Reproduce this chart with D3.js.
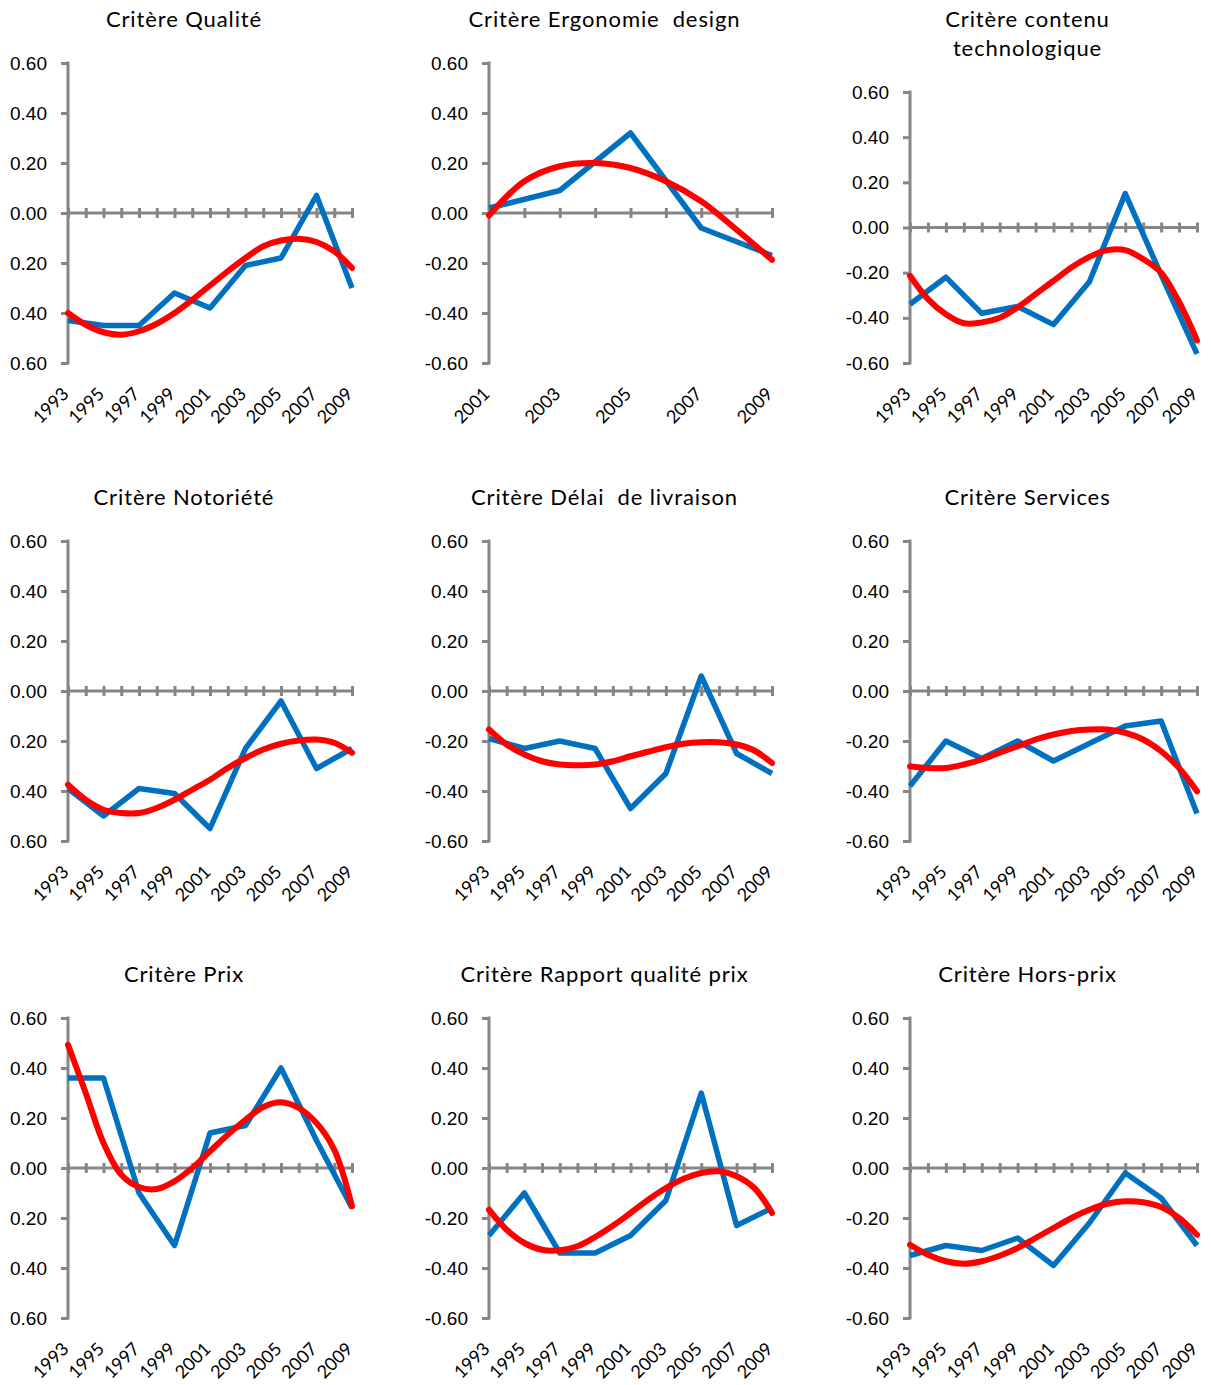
<!DOCTYPE html>
<html>
<head>
<meta charset="utf-8">
<script src="https://cdn.jsdelivr.net/npm/d3@7"></script>
<style>
  body { margin: 0; background: #fff; }
  svg { display: block; font-family: Lato, "Open Sans", sans-serif; }
</style>
</head>
<body>
<svg id="drawing_region"></svg>
<script>
// categories
const yearsLong  = [1993, 1995, 1997, 1999, 2001, 2003, 2005, 2007, 2009];
const yearsShort = [2001, 2003, 2005, 2007, 2009];
const trendYearsLong  = [1993, 1994, 1995, 1996, 1997, 1998, 1999, 2000, 2001, 2002, 2003, 2004, 2005, 2006, 2007, 2008, 2009];
const trendYearsShort = [2001, 2002, 2003, 2004, 2005, 2006, 2007, 2008, 2009];
const yTicks = [-0.6, -0.4, -0.2, 0, 0.2, 0.4, 0.6];

const qualite       = [-0.43, -0.45, -0.45, -0.32, -0.38, -0.21, -0.18, 0.07, -0.30];
const qualiteTrend  = [-0.40, -0.447, -0.477, -0.487, -0.473, -0.443, -0.40, -0.347, -0.29, -0.233, -0.18, -0.133, -0.11, -0.103, -0.116, -0.153, -0.22];
const ergonomie      = [0.02, 0.09, 0.32, -0.06, -0.17];
const ergonomieTrend = [-0.01, 0.127, 0.187, 0.20, 0.18, 0.127, 0.047, -0.067, -0.187];
const contenu      = [-0.34, -0.22, -0.38, -0.35, -0.43, -0.24, 0.15, -0.21, -0.56];
const contenuTrend = [-0.214, -0.317, -0.384, -0.424, -0.42, -0.40, -0.354, -0.295, -0.236, -0.177, -0.13, -0.10, -0.10, -0.14, -0.20, -0.33, -0.50];
const notoriete      = [-0.39, -0.50, -0.39, -0.41, -0.55, -0.23, -0.04, -0.31, -0.23];
const notorieteTrend = [-0.375, -0.435, -0.475, -0.488, -0.488, -0.468, -0.435, -0.395, -0.355, -0.308, -0.268, -0.234, -0.211, -0.198, -0.194, -0.207, -0.247];
const delai      = [-0.19, -0.23, -0.20, -0.23, -0.47, -0.33, 0.06, -0.25, -0.33];
const delaiTrend = [-0.154, -0.214, -0.254, -0.281, -0.294, -0.297, -0.294, -0.281, -0.261, -0.243, -0.225, -0.211, -0.205, -0.205, -0.214, -0.238, -0.288];
const services      = [-0.38, -0.20, -0.27, -0.20, -0.28, -0.21, -0.14, -0.12, -0.49];
const servicesTrend = [-0.301, -0.308, -0.308, -0.294, -0.274, -0.247, -0.221, -0.194, -0.174, -0.16, -0.154, -0.154, -0.167, -0.194, -0.241, -0.308, -0.401];
const prix      = [0.36, 0.36, -0.10, -0.31, 0.14, 0.17, 0.40, 0.11, -0.16];
const prixTrend = [0.493, 0.30, 0.10, -0.027, -0.076, -0.084, -0.053, 0.0, 0.067, 0.133, 0.193, 0.244, 0.263, 0.24, 0.18, 0.073, -0.153];
const rapport      = [-0.27, -0.10, -0.34, -0.34, -0.27, -0.13, 0.30, -0.23, -0.16];
const rapportTrend = [-0.167, -0.247, -0.30, -0.327, -0.329, -0.313, -0.276, -0.231, -0.18, -0.127, -0.08, -0.043, -0.02, -0.013, -0.033, -0.08, -0.18];
const horsPrix      = [-0.35, -0.31, -0.33, -0.28, -0.39, -0.22, -0.02, -0.12, -0.31];
const horsPrixTrend = [-0.307, -0.347, -0.373, -0.383, -0.373, -0.351, -0.32, -0.28, -0.24, -0.20, -0.167, -0.143, -0.133, -0.137, -0.156, -0.20, -0.267];

const titles = [
    ["Critère Qualité"], ["Critère Ergonomie  design"], ["Critère contenu", "technologique"],
    ["Critère Notoriété"], ["Critère Délai  de livraison"], ["Critère Services"],
    ["Critère Prix"], ["Critère Rapport qualité prix"], ["Critère Hors-prix"]
];

const panels = [
    { years: yearsLong,  values: qualite,   tYears: trendYearsLong,  trend: qualiteTrend },
    { years: yearsShort, values: ergonomie, tYears: trendYearsShort, trend: ergonomieTrend },
    { years: yearsLong,  values: contenu,   tYears: trendYearsLong,  trend: contenuTrend },
    { years: yearsLong,  values: notoriete, tYears: trendYearsLong,  trend: notorieteTrend },
    { years: yearsLong,  values: delai,     tYears: trendYearsLong,  trend: delaiTrend },
    { years: yearsLong,  values: services,  tYears: trendYearsLong,  trend: servicesTrend },
    { years: yearsLong,  values: prix,      tYears: trendYearsLong,  trend: prixTrend },
    { years: yearsLong,  values: rapport,   tYears: trendYearsLong,  trend: rapportTrend },
    { years: yearsLong,  values: horsPrix,  tYears: trendYearsLong,  trend: horsPrixTrend }
];

const cols = [ {x0: 68, x1: 352}, {x0: 489, x1: 772}, {x0: 910, x1: 1197} ];
const rows = [ {top: 63, bottom: 363, title: 27}, {top: 541, bottom: 841, title: 505}, {top: 1018, bottom: 1318, title: 982} ];

const svg = d3.select('#drawing_region')
    .attr('width', 1211)
    .attr('height', 1385);

const axisColor = '#868686';
// plain hyphen for negatives, like the original; left column lost its sign
const fmtSigned = d => (d < 0 ? '-' : '') + Math.abs(d).toFixed(2);
const fmtAbs = d => Math.abs(d).toFixed(2);

panels.forEach( (p, i) => {
    const col = cols[i % 3], row = rows[Math.floor(i / 3)];
    const top = (titles[i].length > 1) ? 92 : row.top;
    const width = col.x1 - col.x0, height = row.bottom - top;

    const g = svg.append('g').attr('transform', `translate(${col.x0}, ${top})`);

    // title
    const title = svg.append('text')
        .attr('x', col.x0 + width / 2 - 26)
        .attr('y', row.title)
        .attr('text-anchor', 'middle')
        .style('font-size', '22px')
        .style('letter-spacing', '0.9px')
        .style('white-space', 'pre')
        .attr('fill', '#000');
    titles[i].forEach( (line, k) => {
        title.append('tspan')
            .attr('x', col.x0 + width / 2 - 26)
            .attr('dy', k === 0 ? 0 : 29)
            .text(line);
    });

    const xs = d3.scaleLinear()
        .domain([p.tYears[0], p.tYears[p.tYears.length - 1]])
        .range([0, width]);
    const ys = d3.scaleLinear()
        .domain([-0.6, 0.6])
        .range([height, 0]);

    // y axis
    const yAxis = g.append('g')
        .call( d3.axisLeft(ys).tickValues(yTicks).tickSize(7).tickPadding(14)
            .tickFormat(i % 3 === 0 ? fmtAbs : fmtSigned) );
    yAxis.select('.domain').attr('stroke', axisColor).attr('stroke-width', 3)
        .attr('d', `M0,${height + 1.5}V-1.5`);
    yAxis.selectAll('.tick line').attr('stroke', axisColor).attr('stroke-width', 3);
    yAxis.selectAll('.tick text').style('font-size', '19px').attr('fill', '#000');

    // x axis line at zero, cross ticks every year
    const xAxis = g.append('g')
        .attr('transform', `translate(0, ${ys(0)})`)
        .call( d3.axisBottom(xs).tickValues(p.tYears).tickSize(5).tickFormat('') );
    xAxis.select('.domain').attr('stroke', axisColor).attr('stroke-width', 3)
        .attr('d', `M0,0H${width}`);
    xAxis.selectAll('.tick line').attr('stroke', axisColor).attr('stroke-width', 3)
        .attr('y1', -5).attr('y2', 5);

    // x labels at the bottom
    g.append('g')
        .selectAll('text')
        .data(p.years)
        .join('text')
        .attr('transform', d => `translate(${xs(d) + 2}, ${height + 32}) rotate(-45)`)
        .attr('text-anchor', 'end')
        .style('font-size', '18px')
        .attr('fill', '#000')
        .text(d => d);

    // observed series
    const line = d3.line()
        .x(d => xs(d[0]))
        .y(d => ys(d[1]));
    g.append('path')
        .datum(p.years.map( (y, k) => [y, p.values[k]] ))
        .attr('d', line)
        .attr('fill', 'none')
        .attr('stroke', '#0070C0')
        .attr('stroke-width', 5.5)
        .attr('stroke-linejoin', 'round');

    // trend
    const trendLine = d3.line()
        .curve(d3.curveCatmullRom)
        .x(d => xs(d[0]))
        .y(d => ys(d[1]));
    g.append('path')
        .datum(p.tYears.map( (y, k) => [y, p.trend[k]] ))
        .attr('d', trendLine)
        .attr('fill', 'none')
        .attr('stroke', '#FF0000')
        .attr('stroke-width', 6)
        .attr('stroke-linejoin', 'round')
        .attr('stroke-linecap', 'round');
});
</script>
</body>
</html>
